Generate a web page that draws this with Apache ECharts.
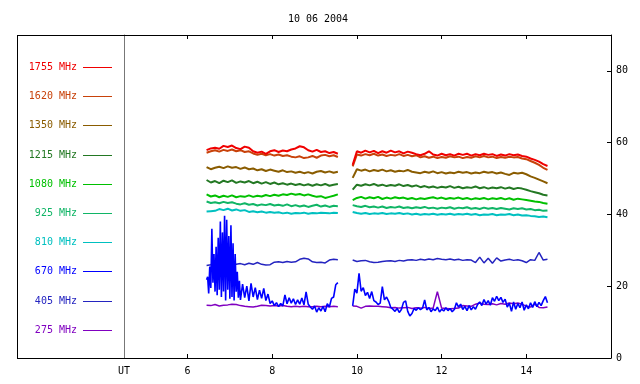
<!DOCTYPE html>
<html>
<head>
<meta charset="utf-8">
<script src="https://cdn.jsdelivr.net/npm/echarts@6/dist/echarts.min.js"></script>
<style>html,body{margin:0;padding:0;background:#fff;}#c{width:640px;height:384px;}</style>
</head>
<body>
<div id="c"></div>
<script>
// ---------- DATA ----------
const title = '10 06 2004';
const xTicks = [6, 8, 10, 12, 14];
const yTicks = [0, 20, 40, 60, 80];
const freqNames = ['1755 MHz','1620 MHz','1350 MHz','1215 MHz','1080 MHz','925 MHz','810 MHz','670 MHz','405 MHz','275 MHz'];
const freqColors = ['#f00000','#c8420a','#8a5c00','#237823','#00c000','#10b566','#00c0c0','#0000ff','#2424c0','#8000c0'];

// coarse time grid (UT hours), segment A and B
const tA = [6.45,6.55,6.65,6.75,6.85,6.95,7.05,7.15,7.25,7.35,7.45,7.55,7.65,7.75,7.85,7.95,8.05,8.15,8.25,8.35,8.45,8.55,8.65,8.75,8.85,8.95,9.05,9.15,9.25,9.35,9.45,9.55];
const tB = [9.9,10.0,10.1,10.2,10.3,10.4,10.5,10.6,10.7,10.8,10.9,11.0,11.1,11.2,11.3,11.4,11.5,11.6,11.7,11.8,11.9,12.0,12.1,12.2,12.3,12.4,12.5,12.6,12.7,12.8,12.9,13.0,13.1,13.2,13.3,13.4,13.5,13.6,13.7,13.8,13.9,14.0,14.1,14.2,14.3,14.4,14.5];
// fine time grid for 670 MHz
const tFA = [6.45,6.475,6.5,6.525,6.55,6.575,6.6,6.625,6.65,6.675,6.7,6.725,6.75,6.775,6.8,6.825,6.85,6.875,6.9,6.925,6.95,6.975,7,7.025,7.05,7.075,7.1,7.125,7.15,7.175,7.2,7.225,7.25,7.3,7.35,7.4,7.45,7.5,7.55,7.6,7.65,7.7,7.75,7.8,7.85,7.9,7.95,8,8.05,8.1,8.15,8.2,8.25,8.3,8.35,8.4,8.45,8.5,8.55,8.6,8.65,8.7,8.75,8.8,8.85,8.9,8.95,9,9.05,9.1,9.15,9.2,9.25,9.3,9.35,9.4,9.45,9.5,9.55];
const tFB = [9.9,9.95,10,10.05,10.1,10.15,10.2,10.25,10.3,10.35,10.4,10.45,10.5,10.55,10.6,10.65,10.7,10.75,10.8,10.85,10.9,10.95,11,11.05,11.1,11.15,11.2,11.25,11.3,11.35,11.4,11.45,11.5,11.55,11.6,11.65,11.7,11.75,11.8,11.85,11.9,11.95,12,12.05,12.1,12.15,12.2,12.25,12.3,12.35,12.4,12.45,12.5,12.55,12.6,12.65,12.7,12.75,12.8,12.85,12.9,12.95,13,13.05,13.1,13.15,13.2,13.25,13.3,13.35,13.4,13.45,13.5,13.55,13.6,13.65,13.7,13.75,13.8,13.85,13.9,13.95,14,14.05,14.1,14.15,14.2,14.25,14.3,14.35,14.4,14.45,14.5];

const v1755A = [57.9,58.4,58.6,58.3,59.1,58.8,59.2,58.5,58.2,58.9,58.6,57.6,57.2,57.5,56.9,57.6,57.9,57.4,57.8,57.6,58.1,58.4,59.0,58.7,57.9,57.5,58.0,57.4,57.6,57.1,57.4,56.9];
const v1755B = [53.8,57.6,57.2,57.8,57.3,57.7,57.1,57.6,57.2,57.8,57.3,57.6,57.0,57.5,57.2,56.8,56.5,56.9,57.6,56.7,56.4,56.9,56.5,56.8,56.4,56.9,56.6,56.9,56.4,56.8,56.5,56.9,56.6,56.8,56.3,56.7,56.4,56.8,56.5,56.7,56.3,56.1,55.6,55.2,54.7,54.0,53.5];

const v1620A = [57.2,57.6,57.9,57.5,58.0,57.7,58.1,57.6,57.9,57.4,57.6,57.0,56.6,56.9,56.5,56.8,56.4,56.7,56.3,56.5,56.1,55.9,56.2,55.7,55.9,56.3,55.8,56.4,56.6,56.2,56.5,56.0];
const v1620B = [53.4,56.7,56.4,56.8,56.5,56.9,56.4,56.7,56.3,56.6,56.4,56.8,56.3,56.6,56.2,56.5,55.9,56.2,55.8,56.1,55.7,56.0,55.8,56.2,55.9,56.1,55.7,56.0,55.8,56.2,55.9,56.3,55.9,56.1,55.7,56.0,55.8,56.1,55.9,56.0,55.6,55.4,54.9,54.4,53.8,53.0,52.4];

const v1350A = [53.2,52.6,53.0,53.3,52.9,53.4,53.0,53.2,52.7,53.1,52.6,52.8,52.3,52.6,52.1,52.5,52.2,51.9,52.3,51.8,52.0,51.6,51.9,51.5,51.8,51.4,51.9,52.1,51.7,52.0,51.6,51.9];
const v1350B = [50.2,52.6,52.2,52.5,52.0,52.4,52.1,52.5,52.0,52.3,51.9,52.2,52.0,52.4,51.9,51.7,51.5,51.9,51.6,52.0,51.5,51.8,51.4,51.7,51.5,51.9,51.6,51.8,51.4,51.7,51.5,51.9,51.6,51.8,51.4,51.7,51.3,51.0,51.6,51.4,51.6,51.2,50.6,50.2,49.7,49.2,48.7];

const v1215A = [49.6,48.9,49.3,48.7,49.4,49.0,49.5,48.8,49.2,48.9,49.3,48.7,49.1,48.6,49.0,48.5,48.9,48.4,48.7,48.3,48.6,48.2,48.5,48.1,48.4,48.0,48.4,48.1,48.5,48.0,48.3,48.5];
const v1215B = [46.9,48.3,48.0,48.4,48.1,48.5,48.0,48.3,47.9,48.2,48.0,48.4,47.9,48.2,47.8,48.1,47.6,47.9,47.5,47.8,47.4,47.7,47.5,47.9,47.4,47.7,47.3,47.6,47.4,47.8,47.3,47.6,47.2,47.5,47.3,47.6,47.2,47.5,47.1,47.4,47.2,46.9,46.5,46.2,45.9,45.5,45.3];

const v1080A = [45.6,45.0,45.3,44.8,45.2,44.9,45.3,44.8,45.1,44.9,45.3,44.9,45.2,45.0,45.4,45.1,45.5,45.2,45.6,45.4,45.8,45.5,45.7,45.3,45.6,45.2,44.9,45.1,44.6,44.9,45.2,45.6];
const v1080B = [44.0,44.6,44.9,44.4,44.8,44.5,44.9,44.3,44.7,44.4,44.8,44.5,44.7,44.3,44.6,44.2,44.5,44.3,44.6,44.8,44.4,44.7,44.3,44.6,44.4,44.7,44.3,44.6,44.2,44.5,44.3,44.6,44.2,44.5,44.3,44.6,44.2,44.5,44.1,44.4,44.2,44.0,43.8,43.6,43.5,43.2,43.0];

const v925A = [43.6,43.2,43.4,43.1,43.5,43.2,43.4,43.0,42.8,43.1,42.7,42.9,42.5,42.8,42.6,42.9,42.5,42.7,42.4,42.8,42.3,42.6,42.2,42.5,42.1,42.4,42.7,42.2,42.5,42.1,42.4,42.3];
const v925B = [42.6,42.3,42.1,42.4,42.0,42.2,41.9,42.2,41.8,42.1,41.9,42.2,41.8,42.0,41.7,42.0,41.8,42.1,41.7,41.9,41.6,41.9,41.7,42.0,41.6,41.9,41.7,42.0,41.6,41.8,41.5,41.9,41.6,41.8,41.5,41.8,41.6,41.4,41.7,41.5,41.7,41.4,41.5,41.2,41.3,41.0,41.1];

const v810A = [40.8,40.9,41.0,41.5,41.2,41.6,41.1,41.4,41.0,41.2,40.7,40.9,40.6,40.8,40.5,40.7,40.5,40.6,40.3,40.5,40.2,40.4,40.3,40.5,40.2,40.4,40.3,40.5,40.4,40.3,40.5,40.4];
const v810B = [40.7,40.4,40.2,40.4,40.1,40.3,40.2,40.4,40.1,40.3,40.2,40.4,40.1,40.3,40.0,40.2,39.9,40.1,40.0,40.2,39.9,40.1,40.0,40.2,39.9,40.1,40.0,40.2,39.9,40.1,39.8,40.0,39.9,40.1,39.8,40.0,39.9,40.1,39.8,40.0,39.7,39.8,39.6,39.5,39.3,39.4,39.2];

const v670A = [21.8,22.6,18.0,25.5,19.5,36.0,21.0,29.0,18.5,31.0,17.5,33.5,19.0,38.0,17.0,35.0,18.5,39.6,16.0,38.5,19.0,34.0,16.5,37.0,17.0,32.0,16.0,29.0,18.5,24.0,16.8,21.5,16.2,20.6,16.8,20.0,15.9,20.8,17.0,19.6,16.3,18.9,16.6,19.4,16.0,17.8,15.2,15.9,14.6,15.4,14.3,15.2,14.5,17.6,15.1,16.8,15.3,16.5,14.9,16.2,15.0,16.7,14.8,18.4,15.0,14.2,13.6,14.5,12.8,14.0,13.1,14.4,12.9,15.1,14.2,16.6,17.0,20.4,21.0];
const v670B = [14.5,19.2,18.1,23.6,18.6,19.6,17.4,18.3,16.6,18.5,16.0,15.6,14.9,15.3,19.9,16.2,17.0,15.8,14.1,13.6,13.0,13.8,12.7,13.5,15.5,15.9,13.0,11.7,12.4,13.8,13.3,14.0,13.5,13.9,16.2,13.4,14.1,12.9,13.7,13.2,14.2,12.8,13.6,13.1,14.0,13.2,13.8,12.9,13.5,15.4,14.2,15.0,13.5,14.4,13.2,14.6,13.4,14.3,13.6,14.9,15.6,14.6,16.3,15.0,16.0,14.7,16.8,15.8,17.2,16.0,16.9,15.5,16.4,14.2,15.3,13.0,15.6,13.6,15.2,14.0,15.6,13.3,14.8,13.7,15.4,14.1,15.7,14.3,15.5,14.6,16.0,17.1,15.4];

const v405A = [25.8,26.0,26.6,26.5,26.7,26.6,26.5,26.1,26.3,26.0,26.4,26.1,26.6,26.1,25.9,26.0,26.7,26.8,26.6,26.9,26.7,26.8,27.5,27.8,27.6,26.8,26.6,26.7,26.5,27.3,27.5,27.4];
const v405B = [27.3,26.9,27.1,27.2,26.8,26.6,26.7,26.9,27.0,27.1,26.9,27.2,27.0,27.3,27.4,27.2,27.5,27.3,27.6,27.4,27.7,27.5,27.4,27.6,27.3,27.5,27.2,27.4,27.3,26.6,28.1,26.5,27.8,26.4,27.9,27.0,27.3,27.5,27.2,27.4,27.1,26.6,27.4,27.2,29.4,27.3,27.5];

const v275A = [14.7,14.6,14.9,14.5,14.7,14.8,15.0,14.9,14.6,14.4,14.3,14.2,14.4,14.7,14.6,14.5,14.6,14.5,14.6,14.4,14.3,14.4,14.3,14.4,14.3,14.3,14.4,14.3,14.4,14.3,14.4,14.3];
const v275B = [14.5,14.4,13.9,14.4,14.5,14.4,14.4,14.3,14.2,14.0,14.1,13.9,14.0,14.1,13.8,14.0,13.9,14.1,13.8,13.9,18.5,13.9,13.8,13.7,13.8,13.9,14.6,14.5,14.4,15.0,15.3,15.0,14.9,15.1,14.8,15.2,15.0,15.3,15.1,15.3,15.0,14.4,14.2,15.0,14.1,14.0,14.2];

// ---------- BUILD ----------
const FONT = 'DejaVu Sans Mono';
function pairs(ts, vs) { const n = Math.min(ts.length, vs.length); const out = []; for (let i = 0; i < n; i++) out.push([ts[i], vs[i]]); return out; }
function joined(ta, a, tb, b) { return pairs(ta, a).concat([[9.7, '-']], pairs(tb, b)); }

const seriesData = {
  '1755 MHz': joined(tA, v1755A, tB, v1755B),
  '1620 MHz': joined(tA, v1620A, tB, v1620B),
  '1350 MHz': joined(tA, v1350A, tB, v1350B),
  '1215 MHz': joined(tA, v1215A, tB, v1215B),
  '1080 MHz': joined(tA, v1080A, tB, v1080B),
  '925 MHz': joined(tA, v925A, tB, v925B),
  '810 MHz': joined(tA, v810A, tB, v810B),
  '670 MHz': joined(tFA, v670A, tFB, v670B),
  '405 MHz': joined(tA, v405A, tB, v405B),
  '275 MHz': joined(tA, v275A, tB, v275B)
};
const widths = { '670 MHz': 1.6, '405 MHz': 1.5, '275 MHz': 1.5 };
const drawOrder = ['275 MHz','405 MHz','670 MHz','810 MHz','925 MHz','1080 MHz','1215 MHz','1350 MHz','1620 MHz','1755 MHz'];
const series = drawOrder.map(name => {
  const col = freqColors[freqNames.indexOf(name)];
  return {
    name: name, type: 'line', data: seriesData[name], symbol: 'none', showSymbol: false,
    connectNulls: false, animation: false,
    lineStyle: { width: widths[name] || 2, color: col },
    itemStyle: { color: col }
  };
});

// legend panel drawn as graphic elements
const graphics = [];
graphics.push({ type: 'rect', shape: { x: 17, y: 35, width: 1, height: 324 }, style: { fill: '#000' }, z: 100 });
graphics.push({ type: 'rect', shape: { x: 17, y: 35, width: 108, height: 1 }, style: { fill: '#000' }, z: 100 });
graphics.push({ type: 'rect', shape: { x: 17, y: 358, width: 108, height: 1 }, style: { fill: '#000' }, z: 100 });
freqNames.forEach((n, i) => {
  const y = Math.round(67 + i * 29.2);
  graphics.push({ type: 'text', x: 77, y: y + 0.5, style: { text: n, fill: freqColors[i], font: '10px "' + FONT + '"', align: 'right', verticalAlign: 'middle' }, z: 100 });
  graphics.push({ type: 'rect', shape: { x: 83, y: y, width: 29, height: 1 }, style: { fill: freqColors[i] }, z: 100 });
});

const axisFont = { color: '#000', fontFamily: FONT, fontSize: 10 };

const option = {
  animation: false,
  backgroundColor: '#fff',
  title: { text: title, left: 313, top: 9, textAlign: 'center', textStyle: { fontFamily: FONT, fontSize: 10, fontWeight: 'normal', color: '#000' } },
  grid: { left: 124, right: 29, top: 35, bottom: 26, containLabel: false },
  xAxis: [
    { type: 'value', min: 4.5, max: 16, position: 'bottom',
      axisLine: { show: true, onZero: false, lineStyle: { color: '#000', width: 1 } },
      axisTick: { show: true, inside: true, length: 4, customValues: xTicks, lineStyle: { color: '#000' } },
      axisLabel: { show: true, customValues: [4.5].concat(xTicks), formatter: v => (Math.abs(v - 4.5) < 1e-6 ? 'UT' : String(v)), margin: 8, ...axisFont },
      splitLine: { show: false } },
    { type: 'value', min: 4.5, max: 16, position: 'top',
      axisLine: { show: true, onZero: false, lineStyle: { color: '#000', width: 1 } },
      axisTick: { show: true, inside: true, length: 4, customValues: xTicks, lineStyle: { color: '#000' } },
      axisLabel: { show: false }, splitLine: { show: false } }
  ],
  yAxis: [
    { type: 'value', min: 0, max: 90, position: 'right',
      axisLine: { show: true, onZero: false, lineStyle: { color: '#000', width: 1 } },
      axisTick: { show: true, inside: true, length: 4, customValues: yTicks, lineStyle: { color: '#000' } },
      axisLabel: { show: true, customValues: yTicks, margin: 5, ...axisFont },
      splitLine: { show: false } },
    { type: 'value', min: 0, max: 90, position: 'left',
      axisLine: { show: true, onZero: false, lineStyle: { color: '#777', width: 1 } },
      axisTick: { show: false }, axisLabel: { show: false }, splitLine: { show: false } }
  ],
  graphic: graphics,
  series: series
};

const chart = echarts.init(document.getElementById('c'), null, { renderer: 'canvas' });
chart.setOption(option);
</script>
</body>
</html>
